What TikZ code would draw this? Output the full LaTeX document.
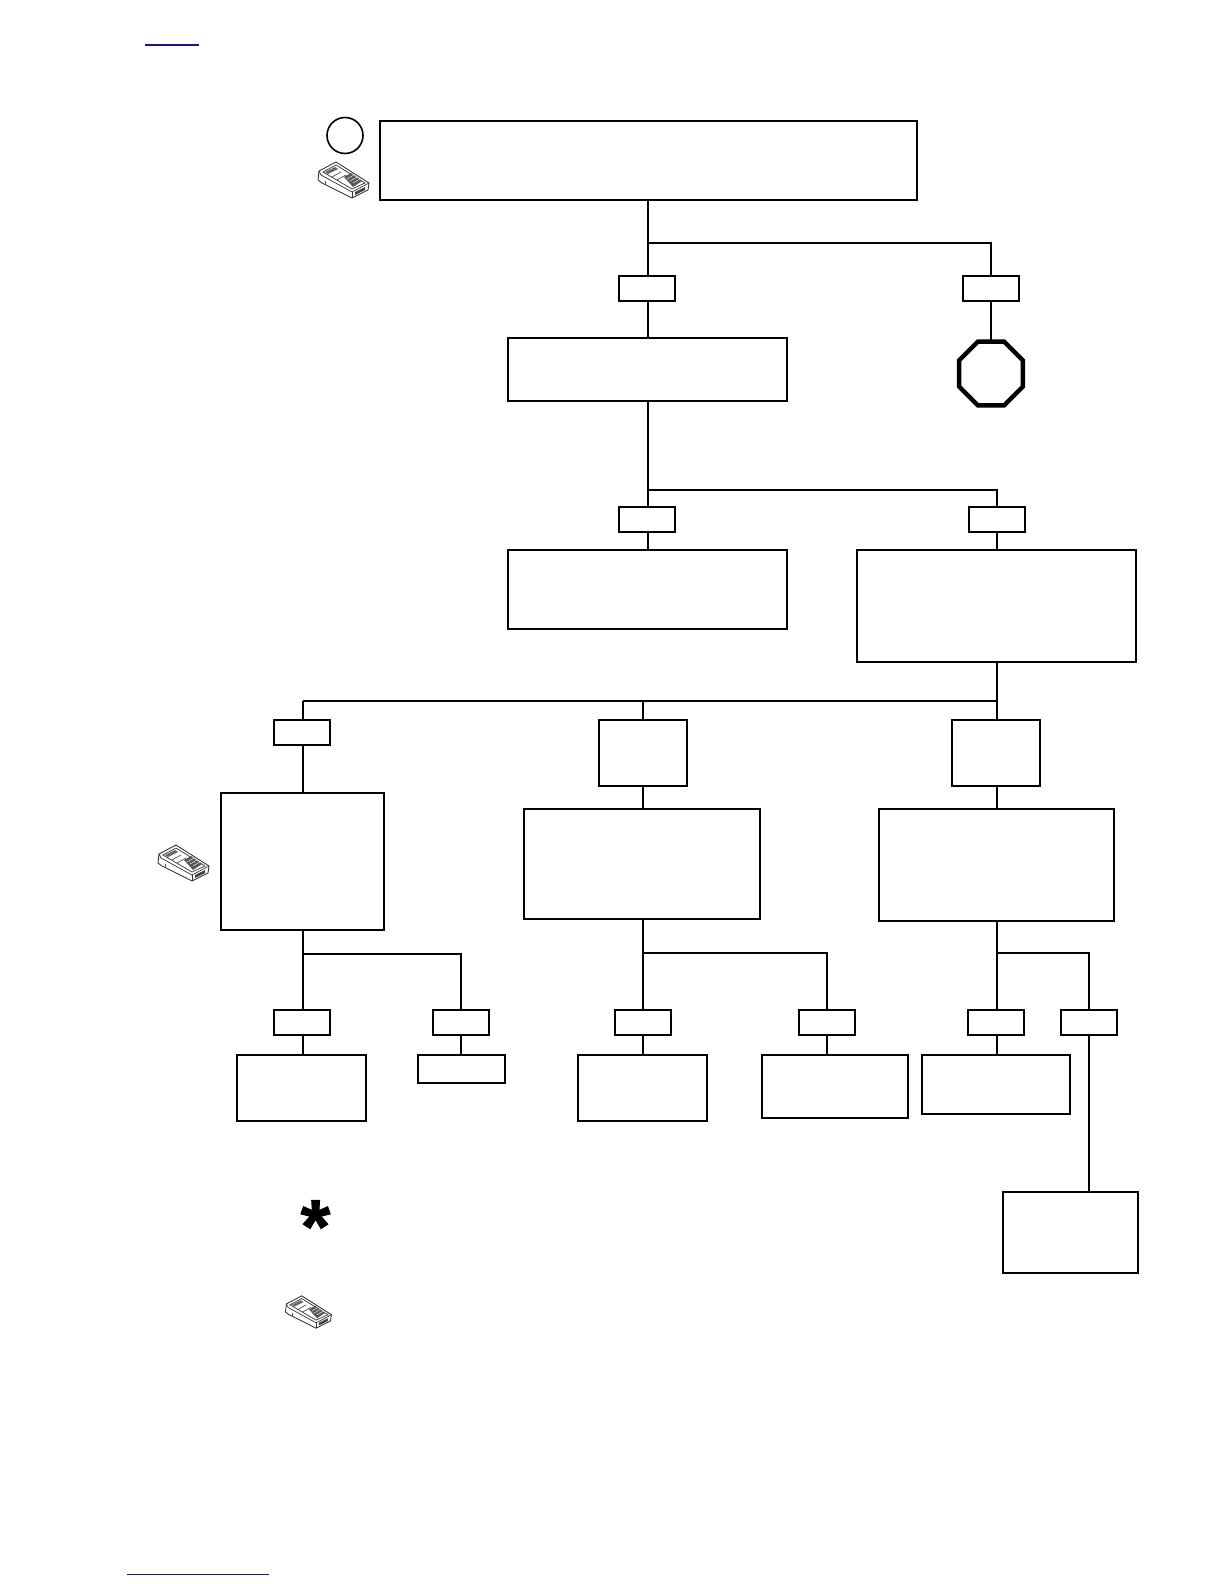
\documentclass[tikz,border=0pt]{standalone}
\usepackage{fontspec}
\newfontfamily\chartStarFont[BoldFeatures={FakeBold=1.2}]{Liberation Sans}
\usetikzlibrary{shapes.geometric}
\definecolor{chartNavy}{RGB}{20,20,140}
\begin{document}
\begin{tikzpicture}[
                x=1pt,y=-1pt,
                chartLine/.style={draw=black,line width=2pt},
                chartBox/.style={rectangle,draw=black,line width=2pt,inner sep=0pt,outer sep=0pt},
                chartTag/.style={chartBox,minimum width=56pt,minimum height=25pt},
                chartStop/.style={regular polygon,regular polygon sides=8,
                                  draw=black,line width=4.4pt,minimum size=69pt,inner sep=0pt,outer sep=0pt},
                chartMeter/.pic={
                    % body of the hand-held tester
                    \draw[black!85,line width=0.8pt,fill=white,line join=round]
                        (-24,-9) -- (-7,-18) -- (26,3) -- (25,10) -- (9,18) -- (-21,3)
                        -- (-25,0) -- cycle;
                    \draw[black!80,line width=0.7pt] (-24,-9) -- (-22,-5) -- (9,12) -- (26,3);
                    \draw[black!80,line width=0.7pt] (9,12) -- (9,18);
                    \draw[black!80,line width=0.7pt] (-20,-8) -- (-7,-15) -- (22,3) -- (9,9) -- cycle;
                    % display and key pad
                    \fill[black!60] (-18,-8) -- (-8,-13) -- (-5,-11) -- (-15,-6) -- cycle;
                    \draw[black!75,line width=0.6pt] (-11,-3) -- (-2,-8) (-6,0) -- (3,-5);
                    \fill[black!65] (1,-3) -- (8,-7) -- (19,1) -- (10,7) -- cycle;
                    \draw[white,line width=0.4pt] (4,-1) -- (11,-5) (7,1) -- (14,-3) (10,3) -- (17,-1);
                    \fill[black!75] (12,12) -- (22,7) -- (22,10) -- (12,15) -- cycle;
                    \draw[black!70,line width=0.6pt] (-18,1) -- (-18,4);
                }]
                % Page marks at head and foot
                \useasboundingbox (0,0) rectangle (1224,1584);
                \coordinate (headL) at (145,45);
                \coordinate (headR) at (199,45);
                \coordinate (footL) at (127,1574.5);
                \coordinate (footR) at (269,1574.5);
                \draw[chartNavy,line width=1.2pt] (headL)--(headR);
                \draw[chartNavy,line width=1.4pt] (footL)--(footR);


                % First test with its step circle and tester
                \node[chartBox,minimum width=537pt,minimum height=79pt] (topBox) at (648.5,160.5) {};
                \node[circle,draw=black,line width=1.6pt,minimum size=36pt,inner sep=0pt] (stepMark) at (345,135.5) {};
                \pic at (343,180) {chartMeter};
                \node[chartTag] (topYes) at (647,288.5) {};
                \node[chartTag] (topNo) at (990.5,288.5) {};
                \node[chartBox,minimum width=279pt,minimum height=63pt] (checkBox) at (647.5,369.5) {};
                \node[chartStop] (stopSign) at (991,373.5) {};
                \coordinate (topJoin) at (648,243);
                \draw[chartLine] (topBox.south -| topJoin)--(topJoin) (topJoin)--(topJoin |- topYes.north);
                \draw[chartLine] (topJoin)-|(topNo.north);
                \draw[chartLine] (topYes.south -| topJoin)--(topJoin |- checkBox.north);
                \draw[chartLine] (topNo.south)--(topNo.south |- stopSign.north);


                % Second split
                \node[chartTag] (checkYes) at (647,519.5) {};
                \node[chartTag] (checkNo) at (996.5,519.5) {};
                \node[chartBox,minimum width=279pt,minimum height=79pt] (leftBox) at (647.5,589.5) {};
                \node[chartBox,minimum width=279pt,minimum height=112pt] (rightBox) at (996.5,606) {};
                \coordinate (checkJoin) at (648,490);
                \draw[chartLine] (checkBox.south -| checkJoin)--(checkJoin) (checkJoin)--(checkJoin |- checkYes.north);
                \draw[chartLine] (checkJoin)-|(checkNo.north);
                \draw[chartLine] (checkYes.south -| checkJoin)--(checkJoin |- leftBox.north);
                \draw[chartLine] (checkNo.south)--(rightBox.north);


                % Three way split under the right box
                \node[chartTag] (wayA) at (301.5,732) {};
                \node[chartBox,minimum width=88pt,minimum height=66pt] (wayB) at (643,753) {};
                \node[chartBox,minimum width=88pt,minimum height=66pt] (wayC) at (996,753) {};
                \node[chartBox,minimum width=163pt,minimum height=137pt] (boxA) at (302.5,861.5) {};
                \node[chartBox,minimum width=236pt,minimum height=110pt] (boxB) at (641.5,864) {};
                \node[chartBox,minimum width=235pt,minimum height=112pt] (boxC) at (996.5,865) {};
                \pic at (183,863) {chartMeter};
                \coordinate (wayJoin) at (996.5,701);
                \coordinate (wayAx) at (303,701);
                \draw[chartLine] (rightBox.south)--(rightBox.south |- wayC.north);
                \draw[chartLine] (wayJoin)--(wayAx) (wayAx)--(wayAx |- wayA.north);
                \draw[chartLine] (wayB.north) -- (wayB.north |- wayJoin);
                \draw[chartLine] (wayA.south -| wayAx)--(wayAx |- boxA.north);
                \draw[chartLine] (wayB.south)--(wayB.south |- boxB.north);
                \draw[chartLine] (wayC.south -| boxC.north)--(boxC.north);


                % Last row, left group
                \node[chartTag] (lowA) at (301.5,1022.5) {};
                \node[chartTag] (lowB) at (461,1022.5) {};
                \node[chartBox,minimum width=129pt,minimum height=66pt] (endA) at (301.5,1088) {};
                \node[chartBox,minimum width=87pt,minimum height=28pt] (endB) at (461.5,1069) {};
                \coordinate (lowJoinA) at (303,953.5);
                \draw[chartLine] (lowJoinA |- boxA.south)--(lowJoinA |- lowA.north);
                \draw[chartLine] (lowJoinA)-|(lowB.north);
                \draw[chartLine] (lowA.south -| lowJoinA)--(lowJoinA |- endA.north);
                \draw[chartLine] (lowB.south)--(lowB.south |- endB.north);


                % Last row, middle group
                \node[chartTag] (lowC) at (643,1022.5) {};
                \node[chartTag] (lowD) at (827,1022.5) {};
                \node[chartBox,minimum width=129pt,minimum height=66pt] (endC) at (642.5,1088) {};
                \node[chartBox,minimum width=146pt,minimum height=63pt] (endD) at (835,1086.5) {};
                \coordinate (lowJoinB) at (643,952.5);
                \draw[chartLine] (lowJoinB |- boxB.south)--(lowJoinB |- lowC.north);
                \draw[chartLine] (lowJoinB)-|(lowD.north);
                \draw[chartLine] (lowC.south -| lowJoinB)--(lowJoinB |- endC.north);
                \draw[chartLine] (lowD.south)--(lowD.south |- endD.north);


                % Last row, right group
                \node[chartTag] (lowE) at (995.5,1022.5) {};
                \node[chartTag] (lowF) at (1088.5,1022.5) {};
                \node[chartBox,minimum width=148pt,minimum height=59pt] (endE) at (996,1084.5) {};
                \node[chartBox,minimum width=135pt,minimum height=80.5pt] (endF) at (1070.5,1232.5) {};
                \coordinate (lowJoinC) at (997,952.5);
                \draw[chartLine] (lowJoinC |- boxC.south)--(lowJoinC |- lowE.north);
                \draw[chartLine] (lowJoinC)-|(lowF.north);
                \draw[chartLine] (lowE.south -| lowJoinC)--(lowJoinC |- endE.north);
                \draw[chartLine] (lowF.south)--(lowF.south |- endF.north);


                % Legend marks
                \node[font=\chartStarFont\bfseries\fontsize{76}{76}\selectfont,inner sep=0pt] (starMark) at (315.5,1226.5) {*};
                \pic[scale=0.9] at (308,1312) {chartMeter};

            \end{tikzpicture}
\end{document}
